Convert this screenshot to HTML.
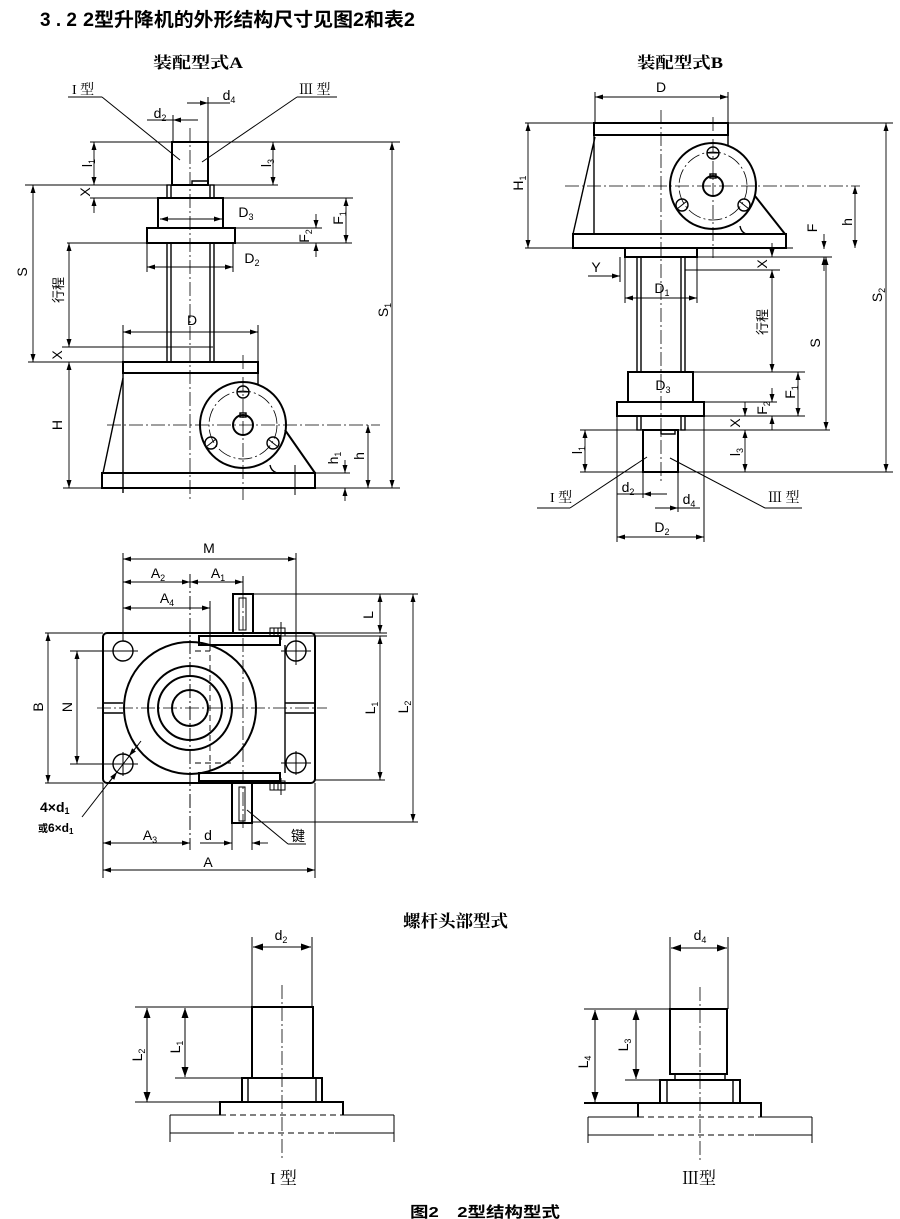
<!DOCTYPE html>
<html><head><meta charset="utf-8"><style>
html,body{margin:0;padding:0;background:#fff}
svg{display:block}
.t{stroke:#000;stroke-width:1;fill:none}
.m{stroke:#000;stroke-width:1.4;fill:none}
.k{stroke:#000;stroke-width:2;fill:none}
.c{stroke:#000;stroke-width:0.8;fill:none;stroke-dasharray:14 3 2 3}
.dh{stroke:#000;stroke-width:0.9;fill:none;stroke-dasharray:6 4}
.d{stroke:#000;stroke-width:0.9;fill:none;marker-start:url(#a);marker-end:url(#a)}
.e{stroke:#000;stroke-width:0.9;fill:none;marker-end:url(#a)}
.D{stroke:#000;stroke-width:1;fill:none;marker-start:url(#b);marker-end:url(#b)}
text{fill:#000}
.l{font-family:"Liberation Sans",sans-serif;font-size:14px}
.s{font-size:9px}
.cj{font-family:"Liberation Sans","Noto Sans CJK SC",sans-serif}
.sf{font-family:"Liberation Serif","Noto Serif CJK SC",serif}
</style></head><body>
<svg width="900" height="1219" viewBox="0 0 900 1219" xmlns="http://www.w3.org/2000/svg">
<defs>
<marker id="a" viewBox="0 0 8 5" refX="8" refY="2.5" markerWidth="8" markerHeight="5" markerUnits="userSpaceOnUse" orient="auto-start-reverse"><path d="M0,0L8,2.5L0,5z"/></marker>
<marker id="b" viewBox="0 0 10 7" refX="10" refY="3.5" markerWidth="10" markerHeight="7" markerUnits="userSpaceOnUse" orient="auto-start-reverse"><path d="M0,0L10,3.5L0,7z"/></marker>
</defs>

<!-- Title -->
<text x="40" y="26" class="cj" font-weight="bold" font-size="19" textLength="37" lengthAdjust="spacing">3.2</text>
<text x="83" y="26" class="cj" font-weight="bold" font-size="19" textLength="332" lengthAdjust="spacingAndGlyphs">2型升降机的外形结构尺寸见图2和表2</text>

<!-- ================= Diagram A ================= -->
<text x="153" y="68" class="sf" font-weight="bold" font-size="16" textLength="90" lengthAdjust="spacingAndGlyphs">装配型式A</text>
<text x="72" y="94" class="sf" font-size="14">I 型</text>
<line class="t" x1="68" y1="97" x2="102" y2="97"/>
<line class="t" x1="102" y1="97" x2="180" y2="160"/>
<text x="299" y="94" class="sf" font-size="14">Ⅲ 型</text>
<line class="t" x1="297" y1="97" x2="337" y2="97"/>
<line class="t" x1="297" y1="97" x2="202" y2="162"/>

<text class="l" x="229" y="100" text-anchor="middle">d<tspan class="s" dy="3">4</tspan></text>
<line class="t" x1="208" y1="103" x2="230" y2="103"/>
<line class="e" x1="187" y1="103" x2="208" y2="103"/>
<line class="t" x1="208" y1="97" x2="208" y2="142"/>
<text class="l" x="160" y="118" text-anchor="middle">d<tspan class="s" dy="3">2</tspan></text>
<line class="t" x1="147" y1="120" x2="173" y2="120"/>
<line class="e" x1="198" y1="120" x2="173" y2="120"/>
<line class="t" x1="173" y1="115" x2="173" y2="142"/>

<line class="c" x1="190" y1="128" x2="190" y2="500"/>
<line class="t" x1="90" y1="142" x2="400" y2="142"/>
<rect class="k" x="172" y="142" width="36" height="43"/>
<path class="m" d="M192,185V181H207"/>
<line class="d" x1="94" y1="142" x2="94" y2="185"/>
<line class="d" x1="273" y1="142" x2="273" y2="185"/>
<line class="t" x1="25" y1="185" x2="278" y2="185"/>
<line class="e" x1="94" y1="213" x2="94" y2="198"/>
<rect class="m" x="167" y="185" width="4" height="13"/>
<rect class="m" x="210" y="185" width="4" height="13"/>
<line class="t" x1="90" y1="198" x2="353" y2="198"/>
<rect class="k" x="158" y="198" width="65" height="30"/>
<line class="d" x1="160" y1="219" x2="222" y2="219"/>
<text class="l" x="246" y="217" text-anchor="middle">D<tspan class="s" dy="3">3</tspan></text>
<rect class="k" x="147" y="228" width="88" height="15"/>
<line class="t" x1="235" y1="228" x2="322" y2="228"/>
<line class="t" x1="67" y1="243" x2="352" y2="243"/>
<line class="d" x1="346" y1="198" x2="346" y2="243"/>
<line class="e" x1="316" y1="214" x2="316" y2="228"/>
<line class="e" x1="316" y1="257" x2="316" y2="243"/>
<line class="d" x1="392" y1="142" x2="392" y2="488"/>
<line class="d" x1="33" y1="185" x2="33" y2="362"/>
<line class="d" x1="69" y1="243" x2="69" y2="347"/>
<!-- tube -->
<line class="m" x1="167" y1="243" x2="167" y2="362"/>
<line class="m" x1="171" y1="243" x2="171" y2="362"/>
<line class="m" x1="210" y1="243" x2="210" y2="362"/>
<line class="m" x1="214" y1="243" x2="214" y2="362"/>
<line class="t" x1="147" y1="243" x2="147" y2="272"/>
<line class="t" x1="233" y1="243" x2="233" y2="272"/>
<line class="d" x1="147" y1="267" x2="233" y2="267"/>
<text class="l" x="252" y="263" text-anchor="middle">D<tspan class="s" dy="3">2</tspan></text>
<line class="t" x1="123" y1="325" x2="123" y2="362"/>
<line class="t" x1="258" y1="325" x2="258" y2="362"/>
<line class="d" x1="123" y1="332" x2="258" y2="332"/>
<text class="l" x="192" y="325" text-anchor="middle">D</text>
<line class="t" x1="62" y1="347" x2="213" y2="347"/>
<line class="t" x1="28" y1="362" x2="258" y2="362"/>
<rect class="k" x="123" y="362" width="135" height="11"/>
<line class="m" x1="123" y1="373" x2="123" y2="493"/>
<line class="m" x1="123" y1="378" x2="103" y2="473"/>
<line class="m" x1="258" y1="373" x2="258" y2="385"/>
<rect class="k" x="102" y="473" width="213" height="15"/>
<circle class="k" cx="243" cy="425" r="43"/>
<circle class="c" cx="243" cy="425" r="34"/>
<circle class="k" cx="243" cy="425" r="10"/>
<rect class="m" x="240" y="413" width="6" height="4"/>
<circle class="m" cx="243" cy="392" r="6"/><line class="t" x1="237" y1="392" x2="249" y2="392"/>
<circle class="m" cx="211" cy="443" r="6"/><line class="t" x1="206" y1="447" x2="216" y2="439"/>
<circle class="m" cx="273" cy="443" r="6"/><line class="t" x1="268" y1="439" x2="278" y2="447"/>
<line class="k" x1="285" y1="430" x2="315" y2="473"/>
<path class="m" d="M270,465Q271,471 277,473"/>
<line class="c" x1="243" y1="355" x2="243" y2="500"/>
<line class="c" x1="107" y1="425" x2="380" y2="425"/>
<line class="d" x1="69" y1="362" x2="69" y2="488"/>
<line class="d" x1="368" y1="425" x2="368" y2="488"/>
<line class="e" x1="345" y1="460" x2="345" y2="473"/>
<line class="e" x1="345" y1="501" x2="345" y2="488"/>
<line class="t" x1="295" y1="465" x2="295" y2="495"/>
<line class="t" x1="315" y1="473" x2="350" y2="473"/>
<line class="t" x1="63" y1="488" x2="400" y2="488"/>
<!-- rotated labels A -->
<text class="l" text-anchor="middle" y="5" transform="translate(87,163) rotate(-90)">l<tspan class="s" dy="3">1</tspan></text>
<text class="l" text-anchor="middle" y="5" transform="translate(266,163) rotate(-90)">l<tspan class="s" dy="3">3</tspan></text>
<text class="l" text-anchor="middle" y="5" transform="translate(85,192) rotate(-90)">X</text>
<text class="l" text-anchor="middle" y="5" transform="translate(338,218) rotate(-90)">F<tspan class="s" dy="3">1</tspan></text>
<text class="l" text-anchor="middle" y="5" transform="translate(304,236) rotate(-90)">F<tspan class="s" dy="3">2</tspan></text>
<text class="l" text-anchor="middle" y="5" transform="translate(22,272) rotate(-90)">S</text>
<text class="cj" font-size="13" text-anchor="middle" y="5" transform="translate(58,290) rotate(-90)">行程</text>
<text class="l" text-anchor="middle" y="5" transform="translate(383,310) rotate(-90)">S<tspan class="s" dy="3">1</tspan></text>
<text class="l" text-anchor="middle" y="5" transform="translate(57,355) rotate(-90)">X</text>
<text class="l" text-anchor="middle" y="5" transform="translate(57,425) rotate(-90)">H</text>
<text class="l" text-anchor="middle" y="5" transform="translate(333,458) rotate(-90)">h<tspan class="s" dy="3">1</tspan></text>
<text class="l" text-anchor="middle" y="5" transform="translate(359,456) rotate(-90)">h</text>

<!-- ================= Diagram B ================= -->
<text x="637" y="68" class="sf" font-weight="bold" font-size="16" textLength="86" lengthAdjust="spacingAndGlyphs">装配型式B</text>
<text class="l" x="661" y="92" text-anchor="middle">D</text>
<line class="t" x1="595" y1="92" x2="595" y2="123"/>
<line class="t" x1="728" y1="92" x2="728" y2="123"/>
<line class="d" x1="595" y1="97" x2="728" y2="97"/>
<line class="t" x1="525" y1="123" x2="893" y2="123"/>
<rect class="k" x="594" y="123" width="134" height="12"/>
<line class="m" x1="594" y1="135" x2="594" y2="234"/>
<line class="m" x1="595" y1="137" x2="573" y2="234"/>
<line class="m" x1="728" y1="135" x2="728" y2="146"/>
<rect class="k" x="573" y="234" width="213" height="14"/>
<circle class="k" cx="713" cy="186" r="43"/>
<circle class="c" cx="713" cy="186" r="34"/>
<circle class="k" cx="713" cy="186" r="10"/>
<rect class="m" x="710" y="174" width="6" height="4"/>
<circle class="m" cx="713" cy="153" r="6"/><line class="t" x1="707" y1="153" x2="719" y2="153"/>
<circle class="m" cx="682" cy="205" r="6"/><line class="t" x1="677" y1="209" x2="687" y2="201"/>
<circle class="m" cx="744" cy="205" r="6"/><line class="t" x1="739" y1="201" x2="749" y2="209"/>
<line class="k" x1="755" y1="196" x2="785" y2="234"/>
<path class="m" d="M740,226Q741,232 746,234"/>
<line class="c" x1="565" y1="186" x2="860" y2="186"/>
<line class="c" x1="713" y1="117" x2="713" y2="258"/>
<line class="c" x1="661" y1="110" x2="661" y2="482"/>
<line class="d" x1="528" y1="123" x2="528" y2="248"/>
<line class="t" x1="525" y1="248" x2="793" y2="248"/>
<line class="d" x1="855" y1="186" x2="855" y2="248"/>
<line class="e" x1="824" y1="234" x2="824" y2="249"/>
<line class="e" x1="824" y1="271" x2="824" y2="257"/>
<rect class="k" x="625" y="248" width="72" height="9"/>
<line class="t" x1="697" y1="257" x2="832" y2="257"/>
<line class="e" x1="772" y1="243" x2="772" y2="257"/>
<line class="t" x1="685" y1="270" x2="780" y2="270"/>
<line class="d" x1="772" y1="270" x2="772" y2="372"/>
<line class="e" x1="588" y1="276" x2="620" y2="276"/>
<line class="t" x1="620" y1="257" x2="620" y2="282"/>
<line class="t" x1="625" y1="257" x2="625" y2="303"/>
<line class="t" x1="697" y1="257" x2="697" y2="303"/>
<line class="d" x1="625" y1="298" x2="697" y2="298"/>
<line class="m" x1="637" y1="257" x2="637" y2="372"/>
<line class="m" x1="641" y1="257" x2="641" y2="372"/>
<line class="m" x1="681" y1="257" x2="681" y2="372"/>
<line class="m" x1="685" y1="257" x2="685" y2="372"/>
<line class="d" x1="826" y1="257" x2="826" y2="430"/>
<line class="d" x1="886" y1="123" x2="886" y2="472"/>
<rect class="k" x="628" y="372" width="65" height="30"/>
<rect class="k" x="617" y="402" width="87" height="14"/>
<line class="t" x1="693" y1="372" x2="805" y2="372"/>
<line class="t" x1="704" y1="402" x2="777" y2="402"/>
<line class="t" x1="704" y1="416" x2="805" y2="416"/>
<line class="d" x1="798" y1="372" x2="798" y2="416"/>
<line class="e" x1="772" y1="388" x2="772" y2="402"/>
<line class="e" x1="772" y1="430" x2="772" y2="416"/>
<rect class="m" x="637" y="416" width="4" height="14"/>
<rect class="m" x="681" y="416" width="4" height="14"/>
<line class="t" x1="580" y1="430" x2="830" y2="430"/>
<line class="e" x1="745" y1="402" x2="745" y2="416"/>
<rect class="k" x="643" y="430" width="35" height="42"/>
<path class="m" d="M661,430V434H675V430"/>
<line class="d" x1="585" y1="430" x2="585" y2="472"/>
<line class="d" x1="745" y1="430" x2="745" y2="472"/>
<line class="t" x1="580" y1="472" x2="893" y2="472"/>
<line class="t" x1="617" y1="416" x2="617" y2="542"/>
<line class="t" x1="704" y1="416" x2="704" y2="542"/>
<line class="t" x1="617" y1="494" x2="667" y2="494"/>
<line class="e" x1="667" y1="494" x2="643" y2="494"/>
<line class="t" x1="643" y1="472" x2="643" y2="498"/>
<line class="t" x1="678" y1="508" x2="700" y2="508"/>
<line class="e" x1="655" y1="508" x2="678" y2="508"/>
<line class="t" x1="678" y1="472" x2="678" y2="512"/>
<line class="d" x1="617" y1="537" x2="704" y2="537"/>
<text x="550" y="502" class="sf" font-size="14">I 型</text>
<line class="t" x1="537" y1="508" x2="570" y2="508"/>
<line class="t" x1="570" y1="508" x2="647" y2="457"/>
<text x="768" y="502" class="sf" font-size="14">Ⅲ 型</text>
<line class="t" x1="765" y1="508" x2="802" y2="508"/>
<line class="t" x1="765" y1="508" x2="670" y2="458"/>
<text class="l" x="596" y="272" text-anchor="middle">Y</text>
<text class="l" x="662" y="293" text-anchor="middle">D<tspan class="s" dy="3">1</tspan></text>
<text class="l" x="663" y="390" text-anchor="middle">D<tspan class="s" dy="3">3</tspan></text>
<text class="l" x="628" y="492" text-anchor="middle">d<tspan class="s" dy="3">2</tspan></text>
<text class="l" x="689" y="504" text-anchor="middle">d<tspan class="s" dy="3">4</tspan></text>
<text class="l" x="662" y="532" text-anchor="middle">D<tspan class="s" dy="3">2</tspan></text>
<text class="l" text-anchor="middle" y="5" transform="translate(518,183) rotate(-90)">H<tspan class="s" dy="3">1</tspan></text>
<text class="l" text-anchor="middle" y="5" transform="translate(847,222) rotate(-90)">h</text>
<text class="l" text-anchor="middle" y="5" transform="translate(812,228) rotate(-90)">F</text>
<text class="l" text-anchor="middle" y="5" transform="translate(762,264) rotate(-90)">X</text>
<text class="cj" font-size="13" text-anchor="middle" y="5" transform="translate(762,322) rotate(-90)">行程</text>
<text class="l" text-anchor="middle" y="5" transform="translate(815,343) rotate(-90)">S</text>
<text class="l" text-anchor="middle" y="5" transform="translate(877,295) rotate(-90)">S<tspan class="s" dy="3">2</tspan></text>
<text class="l" text-anchor="middle" y="5" transform="translate(790,392) rotate(-90)">F<tspan class="s" dy="3">1</tspan></text>
<text class="l" text-anchor="middle" y="5" transform="translate(762,408) rotate(-90)">F<tspan class="s" dy="3">2</tspan></text>
<text class="l" text-anchor="middle" y="5" transform="translate(735,423) rotate(-90)">X</text>
<text class="l" text-anchor="middle" y="5" transform="translate(577,450) rotate(-90)">l<tspan class="s" dy="3">1</tspan></text>
<text class="l" text-anchor="middle" y="5" transform="translate(735,452) rotate(-90)">l<tspan class="s" dy="3">3</tspan></text>

<!-- ================= Plan view ================= -->
<text class="l" x="209" y="553" text-anchor="middle">M</text>
<line class="t" x1="123" y1="553" x2="123" y2="641"/>
<line class="t" x1="296" y1="553" x2="296" y2="641"/>
<line class="d" x1="123" y1="559" x2="296" y2="559"/>
<text class="l" x="158" y="578" text-anchor="middle">A<tspan class="s" dy="3">2</tspan></text>
<text class="l" x="218" y="578" text-anchor="middle">A<tspan class="s" dy="3">1</tspan></text>
<line class="d" x1="123" y1="582" x2="190" y2="582"/>
<line class="d" x1="190" y1="582" x2="243" y2="582"/>
<line class="t" x1="243" y1="576" x2="243" y2="594"/>
<text class="l" x="167" y="603" text-anchor="middle">A<tspan class="s" dy="3">4</tspan></text>
<line class="d" x1="123" y1="608" x2="210" y2="608"/>
<line class="t" x1="210" y1="601" x2="210" y2="645"/>
<line class="dh" x1="210" y1="645" x2="210" y2="770"/>
<line class="dh" x1="195" y1="651" x2="210" y2="651"/>
<line class="dh" x1="195" y1="763" x2="233" y2="763"/>
<line class="c" x1="190" y1="574" x2="190" y2="850"/>
<line class="c" x1="243" y1="594" x2="243" y2="830"/>
<!-- plate -->
<rect class="k" x="103" y="633" width="212" height="150" rx="4"/>
<line class="m" x1="285" y1="645" x2="285" y2="773"/>
<!-- top strip & shaft -->
<rect class="k" x="199" y="636" width="81" height="9" fill="#fff"/>
<line class="m" x1="228" y1="633" x2="258" y2="633"/>
<rect class="k" x="233" y="594" width="20" height="39"/>
<rect class="t" x="239" y="598" width="7" height="32"/>
<rect class="t" x="270" y="628" width="15" height="8"/>
<line class="t" x1="274" y1="628" x2="274" y2="636"/>
<line class="t" x1="278" y1="628" x2="278" y2="636"/>
<line class="t" x1="281" y1="622" x2="281" y2="640"/>
<line class="t" x1="253" y1="594" x2="418" y2="594"/>
<line class="t" x1="285" y1="633" x2="387" y2="633"/>
<line class="t" x1="285" y1="636" x2="387" y2="636"/>
<!-- bottom strip & shaft -->
<rect class="k" x="199" y="773" width="81" height="8" fill="#fff"/>
<line class="m" x1="228" y1="781" x2="258" y2="781"/>
<rect class="k" x="232" y="781" width="20" height="42"/>
<rect class="t" x="239" y="787" width="6" height="34"/>
<rect class="t" x="270" y="781" width="15" height="9"/>
<line class="t" x1="274" y1="781" x2="274" y2="790"/>
<line class="t" x1="278" y1="781" x2="278" y2="790"/>
<line class="t" x1="281" y1="778" x2="281" y2="795"/>
<line class="t" x1="252" y1="822" x2="418" y2="822"/>
<line class="t" x1="315" y1="780" x2="385" y2="780"/>
<!-- circles -->
<circle class="k" cx="190" cy="708" r="66" fill="#fff"/>
<circle class="k" cx="190" cy="708" r="42"/>
<circle class="k" cx="190" cy="708" r="32"/>
<circle class="k" cx="190" cy="708" r="18"/>
<line class="c" x1="97" y1="708" x2="327" y2="708"/>
<line class="c" x1="190" y1="574" x2="190" y2="850"/>
<line class="m" x1="103" y1="703" x2="123" y2="703"/>
<line class="m" x1="103" y1="713" x2="123" y2="713"/>
<line class="m" x1="285" y1="703" x2="315" y2="703"/>
<line class="m" x1="285" y1="713" x2="315" y2="713"/>
<!-- bolt holes -->
<circle class="m" cx="123" cy="651" r="10"/>
<circle class="m" cx="296" cy="651" r="10"/>
<circle class="m" cx="123" cy="764" r="10"/>
<circle class="m" cx="296" cy="763" r="10"/>
<line class="t" x1="108" y1="651" x2="138" y2="651"/>
<line class="t" x1="281" y1="651" x2="311" y2="651"/>
<line class="t" x1="296" y1="641" x2="296" y2="665"/>
<line class="t" x1="108" y1="764" x2="138" y2="764"/>
<line class="t" x1="123" y1="752" x2="123" y2="776"/>
<line class="t" x1="281" y1="763" x2="311" y2="763"/>
<line class="t" x1="296" y1="751" x2="296" y2="775"/>
<!-- B, N -->
<line class="t" x1="45" y1="633" x2="103" y2="633"/>
<line class="t" x1="45" y1="783" x2="103" y2="783"/>
<line class="t" x1="70" y1="651" x2="113" y2="651"/>
<line class="t" x1="70" y1="764" x2="113" y2="764"/>
<line class="d" x1="48" y1="633" x2="48" y2="783"/>
<line class="d" x1="77" y1="651" x2="77" y2="764"/>
<text class="l" text-anchor="middle" y="5" transform="translate(38,707) rotate(-90)">B</text>
<text class="l" text-anchor="middle" y="5" transform="translate(67,707) rotate(-90)">N</text>
<!-- L dims -->
<line class="d" x1="380" y1="594" x2="380" y2="633"/>
<line class="d" x1="380" y1="636" x2="380" y2="780"/>
<line class="d" x1="413" y1="594" x2="413" y2="822"/>
<text class="l" text-anchor="middle" y="5" transform="translate(368,615) rotate(-90)">L</text>
<text class="l" text-anchor="middle" y="5" transform="translate(370,708) rotate(-90)">L<tspan class="s" dy="3">1</tspan></text>
<text class="l" text-anchor="middle" y="5" transform="translate(403,707) rotate(-90)">L<tspan class="s" dy="3">2</tspan></text>
<!-- 4xd1 leader -->
<line class="t" x1="141" y1="741" x2="82" y2="817"/>
<line class="e" x1="138" y1="745" x2="129" y2="756"/>
<line class="e" x1="108" y1="784" x2="117" y2="772"/>
<text class="l" x="40" y="812" font-weight="bold" font-size="13">4×d<tspan class="s" dy="2">1</tspan></text>
<text class="cj" x="38" y="832" font-size="12" font-weight="bold"><tspan font-size="10">或</tspan>6×d<tspan font-size="8" dy="2">1</tspan></text>
<!-- key -->
<line class="t" x1="247" y1="810" x2="288" y2="844"/>
<line class="t" x1="288" y1="844" x2="306" y2="844"/>
<text class="cj" x="291" y="841" font-size="14">键</text>
<!-- A3, d, A -->
<line class="t" x1="103" y1="783" x2="103" y2="878"/>
<line class="t" x1="315" y1="783" x2="315" y2="878"/>
<line class="t" x1="232" y1="823" x2="232" y2="850"/>
<line class="t" x1="252" y1="823" x2="252" y2="850"/>
<line class="d" x1="103" y1="843" x2="190" y2="843"/>
<line class="e" x1="200" y1="843" x2="232" y2="843"/>
<line class="e" x1="268" y1="843" x2="252" y2="843"/>
<line class="d" x1="103" y1="870" x2="315" y2="870"/>
<text class="l" x="150" y="840" text-anchor="middle">A<tspan class="s" dy="3">3</tspan></text>
<text class="l" x="208" y="840" text-anchor="middle">d</text>
<text class="l" x="208" y="867" text-anchor="middle">A</text>

<!-- ================= Screw heads ================= -->
<text x="403" y="927" class="sf" font-weight="bold" font-size="17" textLength="105" lengthAdjust="spacingAndGlyphs">螺杆头部型式</text>

<!-- I type -->
<text class="l" x="281" y="940" text-anchor="middle">d<tspan class="s" dy="3">2</tspan></text>
<line class="t" x1="252" y1="937" x2="252" y2="1007"/>
<line class="t" x1="312" y1="937" x2="312" y2="1007"/>
<line class="D" x1="253" y1="947" x2="311" y2="947"/>
<line class="c" x1="282" y1="985" x2="282" y2="1160"/>
<line class="t" x1="135" y1="1007" x2="252" y2="1007"/>
<rect class="k" x="252" y="1007" width="61" height="71"/>
<line class="D" x1="147" y1="1008" x2="147" y2="1102"/>
<line class="D" x1="185" y1="1008" x2="185" y2="1077"/>
<line class="t" x1="175" y1="1078" x2="242" y2="1078"/>
<rect class="k" x="242" y="1078" width="80" height="24"/>
<line class="m" x1="248" y1="1078" x2="248" y2="1102"/>
<line class="m" x1="316" y1="1078" x2="316" y2="1102"/>
<line class="t" x1="135" y1="1102" x2="220" y2="1102"/>
<path class="k" d="M220,1115V1102H343V1115"/>
<line class="t" x1="170" y1="1115" x2="220" y2="1115"/>
<line class="dh" x1="220" y1="1115" x2="343" y2="1115"/>
<line class="t" x1="343" y1="1115" x2="394" y2="1115"/>
<line class="t" x1="170" y1="1133" x2="228" y2="1133"/>
<line class="dh" x1="228" y1="1133" x2="335" y2="1133"/>
<line class="t" x1="335" y1="1133" x2="394" y2="1133"/>
<line class="t" x1="170" y1="1115" x2="170" y2="1142"/>
<line class="t" x1="394" y1="1115" x2="394" y2="1142"/>
<text class="l" text-anchor="middle" y="5" transform="translate(137,1055) rotate(-90)">L<tspan class="s" dy="3">2</tspan></text>
<text class="l" text-anchor="middle" y="5" transform="translate(175,1047) rotate(-90)">L<tspan class="s" dy="3">1</tspan></text>
<text x="270" y="1184" class="sf" font-size="17">I 型</text>

<!-- III type -->
<text class="l" x="700" y="940" text-anchor="middle">d<tspan class="s" dy="3">4</tspan></text>
<line class="t" x1="670" y1="937" x2="670" y2="1009"/>
<line class="t" x1="728" y1="937" x2="728" y2="1009"/>
<line class="D" x1="671" y1="948" x2="727" y2="948"/>
<line class="c" x1="700" y1="987" x2="700" y2="1162"/>
<line class="t" x1="584" y1="1009" x2="670" y2="1009"/>
<rect class="k" x="670" y="1009" width="57" height="65"/>
<rect class="m" x="675" y="1074" width="50" height="6"/>
<line class="D" x1="595" y1="1010" x2="595" y2="1102"/>
<line class="D" x1="636" y1="1010" x2="636" y2="1079"/>
<line class="t" x1="625" y1="1080" x2="660" y2="1080"/>
<rect class="k" x="660" y="1080" width="80" height="23"/>
<line class="m" x1="667" y1="1080" x2="667" y2="1103"/>
<line class="m" x1="733" y1="1080" x2="733" y2="1103"/>
<path class="k" d="M584,1103H761V1117M638,1103V1117"/>
<line class="t" x1="588" y1="1117" x2="638" y2="1117"/>
<line class="dh" x1="638" y1="1117" x2="761" y2="1117"/>
<line class="t" x1="761" y1="1117" x2="812" y2="1117"/>
<line class="t" x1="588" y1="1135" x2="648" y2="1135"/>
<line class="dh" x1="648" y1="1135" x2="755" y2="1135"/>
<line class="t" x1="755" y1="1135" x2="812" y2="1135"/>
<line class="t" x1="588" y1="1117" x2="588" y2="1143"/>
<line class="t" x1="812" y1="1117" x2="812" y2="1143"/>
<text class="l" text-anchor="middle" y="5" transform="translate(583,1062) rotate(-90)">L<tspan class="s" dy="3">4</tspan></text>
<text class="l" text-anchor="middle" y="5" transform="translate(623,1045) rotate(-90)">L<tspan class="s" dy="3">3</tspan></text>
<text x="682" y="1184" class="sf" font-size="17">Ⅲ型</text>

<!-- caption -->
<text x="410" y="1217" class="cj" font-weight="bold" font-size="15" textLength="150" lengthAdjust="spacingAndGlyphs">图2　2型结构型式</text>
</svg>
</body></html>
